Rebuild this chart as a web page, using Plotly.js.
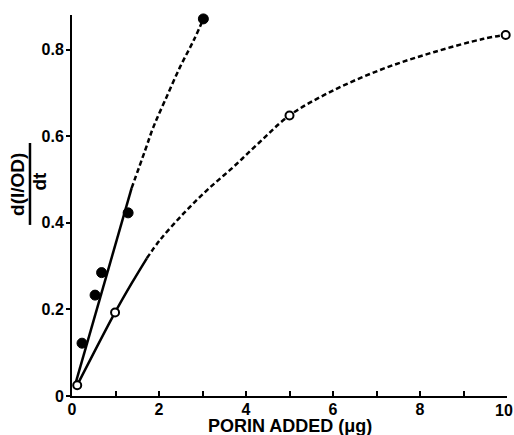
<!DOCTYPE html>
<html>
<head>
<meta charset="utf-8">
<script src="https://cdn.plot.ly/plotly-3.0.1.min.js"></script>
<style>html,body{margin:0;padding:0;background:#fff;}#chart{width:514px;height:435px;}</style>
</head>
<body>
<div id="chart"></div>
<script>
// ---- data ----
const xTickVals = [0, 1, 2, 3, 4, 5, 6, 7, 8, 9, 10];
const xTickText = ['0', '', '2', '', '4', '', '6', '', '8', '', ''];
const xLastTickLabel = '10';   // drawn right-aligned at the page edge, as in the (cropped) reference
const yTickVals = [0, 0.2, 0.4, 0.6, 0.8];
const yTickText = ['0', '0.2', '0.4', '0.6', '0.8'];
const xTitle = 'PORIN ADDED (\u03bcg)';
const yTitleNum = 'd(I/OD)';
const yTitleDen = 'dt';

// filled circles
const filledX = [0.23, 0.53, 0.68, 1.29, 3.02];
const filledY = [0.122, 0.233, 0.285, 0.423, 0.871];
// open circles
const openX = [0.12, 0.99, 5.0, 9.97];
const openY = [0.025, 0.193, 0.648, 0.834];

// fitted curve, filled series: solid part and dashed continuation
const fit1SolidX = [0.07, 1.37];
const fit1SolidY = [0.025, 0.48];
const fit1DashX = [1.37, 1.68, 1.87, 2.14, 2.48, 2.80, 3.02];
const fit1DashY = [0.48, 0.567, 0.621, 0.683, 0.759, 0.822, 0.871];

// fitted curve, open series: solid part and dashed continuation
const fit2SolidX = [0.12, 0.99, 1.37, 1.72];
const fit2SolidY = [0.025, 0.193, 0.26, 0.318];
const fit2DashX = [1.72, 2.02, 2.56, 3.10, 3.71, 4.30, 5.0, 6.01, 7.16, 8.31, 9.46, 9.97];
const fit2DashY = [0.318, 0.36, 0.421, 0.475, 0.529, 0.585, 0.648, 0.706, 0.756, 0.794, 0.825, 0.834];

// ---- drawing ----
const FONT = 'Liberation Sans, Arial, Helvetica, sans-serif';
const DASH = '5px,3px';
const LW = 2.5;

function lineTrace(x, y, dash, shape) {
  return {x: x, y: y, type: 'scatter', mode: 'lines', hoverinfo: 'skip',
          line: {color: '#000', width: LW, dash: dash, shape: shape || 'linear', smoothing: 1},
          cliponaxis: false, showlegend: false};
}

const traces = [
  lineTrace(fit1SolidX, fit1SolidY, 'solid'),
  lineTrace(fit1DashX, fit1DashY, DASH, 'spline'),
  lineTrace(fit2SolidX, fit2SolidY, 'solid', 'spline'),
  lineTrace(fit2DashX, fit2DashY, DASH, 'spline'),
  {x: filledX, y: filledY, type: 'scatter', mode: 'markers', cliponaxis: false, showlegend: false,
   marker: {symbol: 'circle', size: 10, color: '#000', line: {color: '#000', width: 1}}},
  {x: openX, y: openY, type: 'scatter', mode: 'markers', cliponaxis: false, showlegend: false,
   marker: {symbol: 'circle', size: 8, color: '#fff', line: {color: '#000', width: 2}}}
];

const tickFont = {family: FONT, size: 16, weight: 'bold', color: '#000'};

const layout = {
  width: 514, height: 435,
  margin: {l: 72, r: 7, t: 15, b: 39, pad: 0},
  paper_bgcolor: '#fff', plot_bgcolor: '#fff',
  showlegend: false,
  font: {family: FONT, color: '#000'},
  xaxis: {
    range: [0, 10], showline: true, linecolor: '#000', linewidth: 2,
    showgrid: false, zeroline: false, automargin: false,
    ticks: 'inside', ticklen: 5, tickwidth: 2, tickcolor: '#000',
    ticklabelstandoff: -2,
    tickmode: 'array', tickvals: xTickVals, ticktext: xTickText,
    tickfont: tickFont
  },
  yaxis: {
    range: [0, 0.88], showline: true, linecolor: '#000', linewidth: 2,
    showgrid: false, zeroline: false, automargin: false,
    ticks: 'outside', ticklen: 4, tickwidth: 2, tickcolor: '#000',
    ticklabelstandoff: -1,
    tickmode: 'array', tickvals: yTickVals, ticktext: yTickText,
    tickfont: tickFont
  },
  annotations: [
    {text: xLastTickLabel, xref: 'paper', yref: 'paper', x: 1.016, y: -0.0385,
     xanchor: 'right', yanchor: 'middle', showarrow: false, borderpad: 0,
     font: tickFont},
    {text: xTitle, xref: 'paper', yref: 'paper', x: 0.5, y: -0.078,
     xanchor: 'center', yanchor: 'middle', showarrow: false, borderpad: 0,
     font: {family: FONT, size: 18, weight: 'bold', color: '#000'}},
    {text: yTitleNum, xref: 'paper', yref: 'paper', x: -0.127, y: 0.556,
     xanchor: 'center', yanchor: 'middle', textangle: -90, showarrow: false,
     font: {family: FONT, size: 19, weight: 'bold', color: '#000'}},
    {text: yTitleDen, xref: 'paper', yref: 'paper', x: -0.074, y: 0.565,
     xanchor: 'center', yanchor: 'middle', textangle: -90, showarrow: false,
     font: {family: FONT, size: 19, weight: 'bold', color: '#000'}}
  ],
  shapes: [
    {type: 'line', xref: 'paper', yref: 'paper', x0: -0.0966, x1: -0.0966, y0: 0.449, y1: 0.664,
     line: {color: '#000', width: 2.5}}
  ]
};

Plotly.newPlot('chart', traces, layout, {staticPlot: true, displayModeBar: false});
</script>
</body>
</html>
